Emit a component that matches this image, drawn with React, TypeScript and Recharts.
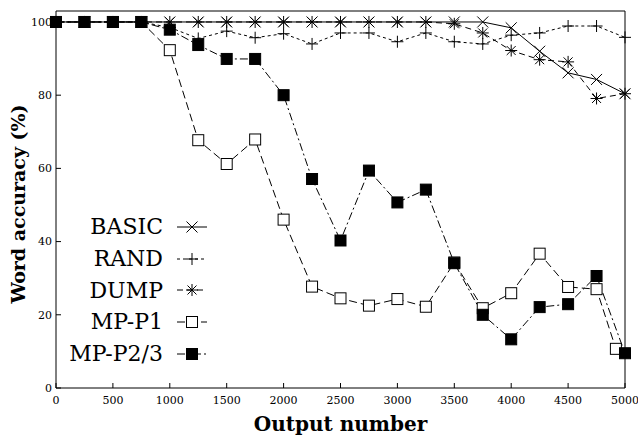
import React from "react";
import {
  LineChart,
  Line,
  XAxis,
  YAxis,
  Legend,
  ReferenceLine,
} from "recharts";

// output number (x) for each measured point
const OUTPUTS = [
  0, 250, 500, 750, 1000, 1250, 1500, 1750, 2000, 2250, 2500, 2750, 3000,
  3250, 3500, 3750, 4000, 4250, 4500, 4750, 5000,
];
// MP-P1's last point sits a little left of 5000 in the figure
const OUTPUTS_P1 = [
  0, 250, 500, 750, 1000, 1250, 1500, 1750, 2000, 2250, 2500, 2750, 3000,
  3250, 3500, 3750, 4000, 4250, 4500, 4750, 4920,
];

const BASIC = [
  100, 100, 100, 100, 100, 100, 100, 100, 100, 100, 100, 100, 100, 100, 100,
  100, 98.4, 92, 86.1, 84.3, 80.4,
];
const RAND = [
  100, 100, 100, 100, 98.5, 95.5, 97.5, 95.7, 96.8, 94, 97, 97, 94.6, 97,
  94.6, 94, 96.4, 97, 98.9, 98.9, 95.8,
];
const DUMP = [
  100, 100, 100, 100, 100, 100, 100, 100, 100, 100, 100, 100, 100, 100, 99.5,
  97, 92.2, 89.7, 89.1, 79.1, 80.4,
];
const MP_P1 = [
  100, 100, 100, 100, 92.3, 67.7, 61.2, 67.9, 46, 27.7, 24.5, 22.5, 24.3,
  22.2, 34.3, 21.8, 25.9, 36.7, 27.6, 27, 10.7,
];
const MP_P23 = [
  100, 100, 100, 100, 97.9, 93.7, 89.9, 89.9, 80, 57.1, 40.3, 59.4, 50.7,
  54.2, 34.1, 20, 13.3, 22.1, 22.9, 30.6, 9.5,
];

const X_TICKS = [0, 500, 1000, 1500, 2000, 2500, 3000, 3500, 4000, 4500, 5000];
const Y_TICKS = [0, 20, 40, 60, 80, 100];

type MarkerKind = "cross" | "plus" | "star" | "open" | "filled";

const SERIES: {
  name: string;
  xs: number[];
  ys: number[];
  dash?: string;
  marker: MarkerKind;
}[] = [
  { name: "BASIC", xs: OUTPUTS, ys: BASIC, marker: "cross" },
  { name: "RAND", xs: OUTPUTS, ys: RAND, dash: "3 3", marker: "plus" },
  { name: "DUMP", xs: OUTPUTS, ys: DUMP, dash: "6 4", marker: "star" },
  { name: "MP-P1", xs: OUTPUTS_P1, ys: MP_P1, dash: "8 4", marker: "open" },
  { name: "MP-P2/3", xs: OUTPUTS, ys: MP_P23, dash: "8 3 2 3", marker: "filled" },
];

const SERIF = "'DejaVu Serif', 'Liberation Serif', serif";

function Marker({ kind, cx, cy }: { kind: MarkerKind; cx: number; cy: number }) {
  const s = { stroke: "#000", strokeWidth: 1 };
  if (kind === "cross") {
    const r = 5.5;
    return (
      <g {...s}>
        <line x1={cx - r} y1={cy - r} x2={cx + r} y2={cy + r} />
        <line x1={cx - r} y1={cy + r} x2={cx + r} y2={cy - r} />
      </g>
    );
  }
  if (kind === "plus") {
    const r = 6;
    return (
      <g {...s}>
        <line x1={cx - r} y1={cy} x2={cx + r} y2={cy} />
        <line x1={cx} y1={cy - r} x2={cx} y2={cy + r} />
      </g>
    );
  }
  if (kind === "star") {
    const r = 6;
    const d = 4.5;
    return (
      <g {...s}>
        <line x1={cx - r} y1={cy} x2={cx + r} y2={cy} />
        <line x1={cx} y1={cy - r} x2={cx} y2={cy + r} />
        <line x1={cx - d} y1={cy - d} x2={cx + d} y2={cy + d} />
        <line x1={cx - d} y1={cy + d} x2={cx + d} y2={cy - d} />
      </g>
    );
  }
  const h = 5.5;
  return (
    <rect
      x={cx - h}
      y={cy - h}
      width={h * 2}
      height={h * 2}
      fill={kind === "filled" ? "#000" : "#fff"}
      stroke="#000"
      strokeWidth={1}
    />
  );
}

// keep the legend in plotting order (BASIC first), not alphabetical
function renderLegend(props: any) {
  const payload = props.payload || [];
  return (
    <div style={{ fontFamily: SERIF, fontSize: 22, color: "#000" }}>
      {SERIES.map((cfg) => {
        const entry = payload.find((p: any) => p.value === cfg.name);
        if (!entry) return null;
        return (
          <div
            key={cfg.name}
            style={{ display: "flex", alignItems: "center", height: 31.7 }}
          >
            <span style={{ width: 150, textAlign: "right", lineHeight: "31px" }}>
              {entry.value}
            </span>
            <svg width={32} height={20} style={{ marginLeft: 14 }}>
              <line
                x1={0}
                y1={10}
                x2={30}
                y2={10}
                stroke="#000"
                strokeWidth={1}
                strokeDasharray={cfg.dash}
              />
              <Marker kind={cfg.marker} cx={15} cy={10} />
            </svg>
          </div>
        );
      })}
    </div>
  );
}

function YTitle() {
  const cx = 18;
  const cy = 204;
  return (
    <text
      x={cx}
      y={cy}
      transform={`rotate(-90, ${cx}, ${cy})`}
      textAnchor="middle"
      dominantBaseline="central"
      fontFamily={SERIF}
      fontWeight="bold"
      fontSize={19}
      fill="#000"
    >
      Word accuracy (%)
    </text>
  );
}

export default function App() {
  return (
    <div style={{ position: "absolute", left: 0, top: 0, background: "#fff" }}>
      <LineChart
        width={638}
        height={437}
        margin={{ top: 11, right: 0, bottom: 0, left: 0 }}
      >
        <XAxis
          dataKey="x"
          type="number"
          domain={[0, 5000]}
          ticks={X_TICKS}
          allowDuplicatedCategory={false}
          height={49}
          interval={0}
          tickSize={-5}
          tickMargin={13}
          stroke="#000"
          tick={{ fill: "#000", fontSize: 11, fontFamily: SERIF }}
          label={{
            value: "Output number",
            position: "insideBottom",
            offset: 6,
            fill: "#000",
            fontSize: 20,
            fontWeight: "bold",
            fontFamily: SERIF,
          }}
        />
        <YAxis
          type="number"
          domain={[0, 103]}
          allowDataOverflow
          ticks={Y_TICKS}
          width={56}
          interval={0}
          tickSize={-5}
          tickMargin={9}
          stroke="#000"
          tick={{ fill: "#000", fontSize: 11, fontFamily: SERIF }}
          label={<YTitle />}
        />
        <YAxis
          yAxisId="right"
          orientation="right"
          type="number"
          domain={[0, 103]}
          allowDataOverflow
          ticks={Y_TICKS}
          width={13}
          interval={0}
          tickSize={-5}
          tick={false}
          stroke="#000"
        />
        <ReferenceLine y={103} stroke="#000" />
        {SERIES.map((s) => (
          <Line
            key={s.name}
            name={s.name}
            data={s.xs.map((x, i) => ({ x, y: s.ys[i] }))}
            dataKey="y"
            stroke="#000"
            strokeWidth={1}
            strokeDasharray={s.dash}
            isAnimationActive={false}
            dot={(p: any) => (
              <Marker
                key={`${s.name}-${p.index}`}
                kind={s.marker}
                cx={p.cx}
                cy={p.cy}
              />
            )}
            activeDot={false}
          />
        ))}
        <Legend
          layout="vertical"
          align="center"
          verticalAlign="middle"
          content={renderLegend}
          wrapperStyle={{ position: "absolute", left: 13, top: 211, width: 200 }}
        />
      </LineChart>
    </div>
  );
}
